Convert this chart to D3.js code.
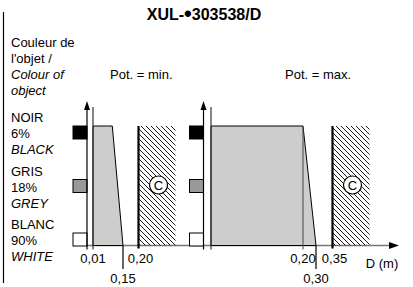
<!DOCTYPE html>
<html>
<head>
<meta charset="utf-8">
<script src="https://cdn.jsdelivr.net/npm/d3@7"></script>
<style>
  body { margin: 0; background: #fff; }
  svg { display: block; font-family: "Liberation Sans", Arial, sans-serif; }
</style>
</head>
<body>
<div id="chart"></div>
<script>
// object colours (rows)
const colours = ["NOIR", "GRIS", "BLANC"];
const percents = ["6%", "18%", "90%"];
const english = ["BLACK", "GREY", "WHITE"];

// the two pot settings
const panels = ["Pot. = min.", "Pot. = max."];
const zoneStart = [0.01, 0.01];   // detection starts
const blackReach = [0.10, 0.20];  // black object (estimated for min)
const whiteReach = [0.15, 0.30];  // white object
const blindEdge = [0.20, 0.35];   // background suppression limit
const tickValues = [[0.01, 0.15, 0.20], [0.20, 0.30, 0.35]];

const title = "XUL-";
const titleRest = "303538/D";
const headLines = ["Couleur de", "l'objet /", "Colour of", "object"];

const width = 413, height = 287;
const swatchFill = {NOIR: "#000", GRIS: "#999", BLANC: "#fff"};
const fmt = v => d3.format(".2f")(v).replace(".", ",");

const svg = d3.select("#chart").append("svg")
    .attr("width", width)
    .attr("height", height);

const defs = svg.append("defs");
const pat = defs.append("pattern")
    .attr("id", "hatch")
    .attr("patternUnits", "userSpaceOnUse")
    .attr("width", 5).attr("height", 5);
pat.append("path")
    .attr("d", "M0,0L5,5M-1,4L1,6M4,-1L6,1")
    .attr("stroke", "#000").attr("stroke-width", 0.9);

// schematic (non linear) distance scales, one per panel
const xScales = [
    d3.scaleLinear().domain([0, 0.01, 0.15, 0.20]).range([87, 93, 123, 138.5]),
    d3.scaleLinear().domain([0, 0.01, 0.20, 0.30, 0.35]).range([203.5, 211, 303, 316, 332.5])
];
const y = d3.scalePoint().domain(colours).range([132.5, 239.5]);
const axisY = 245.5;
const topY = y("NOIR") - 6.5;

// left frame line
svg.append("line")
    .attr("x1", 3.5).attr("x2", 3.5).attr("y1", 12).attr("y2", 283)
    .attr("stroke", "#000").attr("stroke-width", 1.2);

// title
const t = svg.append("text")
    .attr("x", 204).attr("y", 20)
    .attr("text-anchor", "middle")
    .attr("font-size", 16).attr("font-weight", "bold");
t.append("tspan").text(title);
t.append("tspan").attr("font-size", 22).attr("dy", 1).text("\u2022");
t.append("tspan").attr("dy", -1).text(titleRest);

// header on the left
svg.selectAll("text.head").data(headLines).join("text")
    .attr("class", "head")
    .attr("x", 11)
    .attr("y", (d, i) => 47 + i * 16)
    .attr("font-size", 13)
    .attr("font-style", (d, i) => i >= 2 ? "italic" : "normal")
    .text(d => d);

// row labels
colours.forEach((c, i) => {
    const base = y(c) - 10.5;
    [c, percents[i], english[i]].forEach((s, j) => {
        svg.append("text")
            .attr("x", 11).attr("y", base + j * 16)
            .attr("font-size", 13)
            .attr("font-style", j === 2 ? "italic" : "normal")
            .text(s);
    });
});

// shared horizontal axis
svg.append("line")
    .attr("x1", xScales[0](0) - 1).attr("x2", 391)
    .attr("y1", axisY).attr("y2", axisY)
    .attr("stroke", "#777").attr("stroke-width", 1.5);
svg.append("path")
    .attr("d", `M399,${axisY}L389,${axisY - 3.5}L389,${axisY + 3.5}Z`)
    .attr("fill", "#000");
svg.append("text")
    .attr("x", 382).attr("y", 268)
    .attr("text-anchor", "middle")
    .attr("font-size", 13)
    .text("D (m)");

panels.forEach((p, k) => {
    const x = xScales[k];
    const g = svg.append("g");

    g.append("text")
        .attr("x", k === 0 ? 110 : 285).attr("y", 79)
        .attr("font-size", 13)
        .text(p);

    // grey detection zone
    const poly = [
        [x(zoneStart[k]), topY],
        [x(blackReach[k]), topY],
        [x(whiteReach[k]), axisY],
        [x(zoneStart[k]), axisY]
    ];
    g.append("path")
        .attr("d", d3.line()(poly) + "Z")
        .attr("fill", "#cdcdcd")
        .attr("stroke", "#000").attr("stroke-width", 1);

    // blind zone (hatched)
    const bx = x(blindEdge[k]);
    g.append("rect")
        .attr("x", bx).attr("y", topY)
        .attr("width", 37).attr("height", axisY - topY)
        .attr("fill", "url(#hatch)");
    g.append("line")
        .attr("x1", bx).attr("x2", bx).attr("y1", topY).attr("y2", axisY + 3)
        .attr("stroke", "#000").attr("stroke-width", 2.2);
    g.append("circle")
        .attr("cx", bx + 20).attr("cy", y("GRIS") - 1)
        .attr("r", 9)
        .attr("fill", "#fff").attr("stroke", "#000").attr("stroke-width", 1.2);
    g.append("text")
        .attr("x", bx + 20).attr("y", y("GRIS") + 3.5)
        .attr("text-anchor", "middle")
        .attr("font-size", 13)
        .text("C");

    // colour swatches
    g.selectAll("rect.sw").data(colours).join("rect")
        .attr("class", "sw")
        .attr("x", x(0) - 14).attr("y", d => y(d) - 6.5)
        .attr("width", 14).attr("height", 13)
        .attr("fill", d => swatchFill[d])
        .attr("stroke", "#000").attr("stroke-width", 1);

    // zone start line
    g.append("line")
        .attr("x1", x(zoneStart[k])).attr("x2", x(zoneStart[k]))
        .attr("y1", 107).attr("y2", axisY + 4)
        .attr("stroke", "#333").attr("stroke-width", 1.2);

    // vertical arrow
    g.append("line")
        .attr("x1", x(0)).attr("x2", x(0))
        .attr("y1", 108).attr("y2", axisY + 4)
        .attr("stroke", "#000").attr("stroke-width", 1.2);
    g.append("path")
        .attr("d", `M${x(0)},101L${x(0) - 3},110L${x(0) + 3},110Z`)
        .attr("fill", "#000");

    // ticks and labels
    tickValues[k].forEach(v => {
        const low = v === whiteReach[k];
        const tx = x(v);
        if (low) {
            g.append("line")
                .attr("x1", tx).attr("x2", tx).attr("y1", axisY).attr("y2", 269)
                .attr("stroke", "#000").attr("stroke-width", 1.2);
        } else if (v === blackReach[k]) {
            g.append("line")
                .attr("x1", tx).attr("x2", tx).attr("y1", topY).attr("y2", axisY + 4)
                .attr("stroke", "#444").attr("stroke-width", 1);
        }
        g.append("text")
            .attr("x", tx + (v === blindEdge[k] ? 2 : 0))
            .attr("y", low ? 283 : 263)
            .attr("text-anchor", "middle")
            .attr("font-size", 13)
            .text(fmt(v));
    });
});
</script>
</body>
</html>
